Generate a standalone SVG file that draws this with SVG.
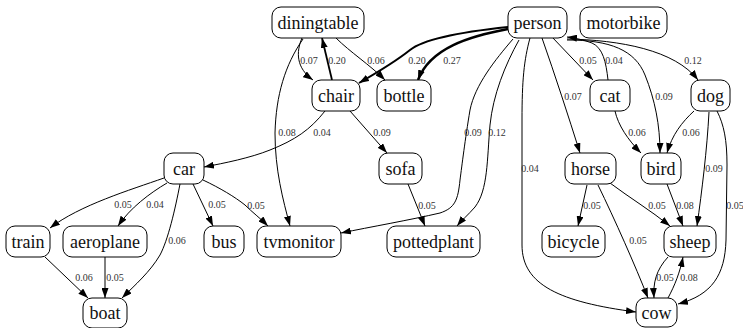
<svg xmlns="http://www.w3.org/2000/svg" width="743" height="328" viewBox="0 0 743 328">
<style>
.n rect{fill:#fff;stroke:#000;stroke-width:1}
.n text{font-size:18px;text-anchor:middle;fill:#111}
.e path{fill:none;stroke:#000;stroke-width:1;marker-end:url(#a)}
.l text{font-size:10px;text-anchor:middle;fill:#333}
</style>
<defs>
<marker id="a" markerUnits="userSpaceOnUse" markerWidth="10" markerHeight="7" refX="10" refY="3.5" orient="auto"><path d="M0,0 L10,3.5 L0,7 z" fill="#000"/></marker>
</defs>
<rect width="743" height="328" fill="#fff"/>
<g id="connectors">
<g class="e">
<path d="M302,38 C296,52 296,68 313,80"/>
<path d="M332,80 L322,38" style="stroke-width:1.8"/>
<path d="M336,38 C350,52 370,65 385,80"/>
<path d="M303,39 C285,65 276,95 275,133 C275,170 283,200 290,226"/>
<path d="M508,27 C470,31 425,38 410,50 C400,58 385,68 359,83" style="stroke-width:2"/>
<path d="M508,29 C470,36 430,48 418,80" style="stroke-width:2.5"/>
<path d="M513,39 C495,60 475,85 470,110 C465,140 462,165 460,180 C458,200 455,208 440,213 C410,220 370,227 341,233"/>
<path d="M519,40 C505,65 493,95 490,125 C487,160 488,190 475,207 C468,215 462,220 457,226"/>
<path d="M542,38 C555,75 568,115 580,153"/>
<path d="M530,38 C524,60 522,80 522,120 L522,245 C522,285 560,302 636,312"/>
<path d="M552,37 L593,80"/>
<path d="M608,80 C606,62 603,48 592,43 C584,40 575,38 567,37"/>
<path d="M567,40 C610,40 635,50 645,75 C655,100 660,125 660,153"/>
<path d="M567,39 C620,40 675,50 698,80"/>
<path d="M615,111 C618,125 628,140 641,153"/>
<path d="M694,111 C682,122 672,135 667,153"/>
<path d="M709,112 C707,150 702,190 697,226"/>
<path d="M717,111 C724,125 727,140 727,165 L726,240 C725,275 712,295 678,304"/>
<path d="M587,185 L578,226"/>
<path d="M610,183 C630,198 650,210 670,226"/>
<path d="M598,185 C615,220 635,265 648,298"/>
<path d="M667,184 L683,226"/>
<path d="M668,257 C656,270 653,283 654,298"/>
<path d="M668,298 C675,285 680,272 683,257"/>
<path d="M325,111 C310,130 295,140 270,150 C250,158 225,163 204,167"/>
<path d="M350,111 L387,153"/>
<path d="M408,184 L425,226"/>
<path d="M164,178 C130,190 80,205 50,228"/>
<path d="M167,183 C150,193 130,208 118,226"/>
<path d="M180,184 C175,210 168,240 160,255 C150,272 135,285 122,298"/>
<path d="M193,184 L213,226"/>
<path d="M203,180 C220,188 235,197 245,205 C252,212 260,218 268,226"/>
<path d="M45,257 L88,298"/>
<path d="M105,257 L105,298"/>
</g>
<g class="l" font-family="Liberation Serif, serif">
<text x="309" y="63.5">0.07</text>
<text x="337" y="63.5">0.20</text>
<text x="376" y="63.5">0.06</text>
<text x="287" y="135.5">0.08</text>
<text x="417" y="63.5">0.20</text>
<text x="452" y="63.5">0.27</text>
<text x="473" y="135.5">0.09</text>
<text x="497" y="135.5">0.12</text>
<text x="573" y="99.5">0.07</text>
<text x="530" y="171.5">0.04</text>
<text x="588" y="63.5">0.05</text>
<text x="614" y="63.5">0.04</text>
<text x="664" y="99.5">0.09</text>
<text x="693" y="63.5">0.12</text>
<text x="637" y="135.5">0.06</text>
<text x="691" y="135.5">0.06</text>
<text x="714" y="171.5">0.09</text>
<text x="735" y="208.5">0.05</text>
<text x="592" y="208.5">0.05</text>
<text x="657" y="208.5">0.05</text>
<text x="638" y="243.5">0.05</text>
<text x="685" y="208.5">0.08</text>
<text x="665" y="280.5">0.05</text>
<text x="689" y="280.5">0.08</text>
<text x="322" y="135.5">0.04</text>
<text x="382" y="135.5">0.09</text>
<text x="427" y="208.5">0.05</text>
<text x="123" y="207.5">0.05</text>
<text x="155" y="207.5">0.04</text>
<text x="177" y="243.5">0.06</text>
<text x="217" y="207.5">0.05</text>
<text x="256" y="208.5">0.05</text>
<text x="84" y="280.5">0.06</text>
<text x="115" y="280.5">0.05</text>
</g>
</g>
<g id="nodes" font-family="Liberation Serif, serif">
<g id="diningtable" class="n"><rect x="272" y="7" width="92" height="31" rx="9"/><text x="318" y="28.5">diningtable</text></g>
<g id="person" class="n"><rect x="508" y="7" width="59" height="31" rx="9"/><text x="537.5" y="28.5">person</text></g>
<g id="motorbike" class="n"><rect x="580" y="7" width="87" height="31" rx="9"/><text x="623.5" y="28.5">motorbike</text></g>
<g id="chair" class="n"><rect x="312" y="80" width="48" height="31" rx="9"/><text x="336" y="101.5">chair</text></g>
<g id="bottle" class="n"><rect x="377" y="80" width="54" height="31" rx="9"/><text x="404" y="101.5">bottle</text></g>
<g id="cat" class="n"><rect x="590" y="80" width="40" height="31" rx="9"/><text x="610" y="101.5">cat</text></g>
<g id="dog" class="n"><rect x="691" y="80" width="39" height="31" rx="9"/><text x="710.5" y="101.5">dog</text></g>
<g id="car" class="n"><rect x="164" y="153" width="40" height="31" rx="9"/><text x="184" y="174.5">car</text></g>
<g id="sofa" class="n"><rect x="379" y="153" width="43" height="31" rx="9"/><text x="400.5" y="174.5">sofa</text></g>
<g id="horse" class="n"><rect x="565" y="153" width="51" height="31" rx="9"/><text x="590.5" y="174.5">horse</text></g>
<g id="bird" class="n"><rect x="641" y="153" width="40" height="31" rx="9"/><text x="661" y="174.5">bird</text></g>
<g id="train" class="n"><rect x="6" y="226" width="44" height="31" rx="9"/><text x="28" y="247.5">train</text></g>
<g id="aeroplane" class="n"><rect x="63" y="226" width="84" height="31" rx="9"/><text x="105" y="247.5">aeroplane</text></g>
<g id="bus" class="n"><rect x="204" y="226" width="40" height="31" rx="9"/><text x="224" y="247.5">bus</text></g>
<g id="tvmonitor" class="n"><rect x="257" y="226" width="84" height="31" rx="9"/><text x="299" y="247.5">tvmonitor</text></g>
<g id="pottedplant" class="n"><rect x="387" y="226" width="93" height="31" rx="9"/><text x="433.5" y="247.5">pottedplant</text></g>
<g id="bicycle" class="n"><rect x="542" y="226" width="63" height="31" rx="9"/><text x="573.5" y="247.5">bicycle</text></g>
<g id="sheep" class="n"><rect x="664" y="226" width="52" height="31" rx="9"/><text x="690" y="247.5">sheep</text></g>
<g id="boat" class="n"><rect x="83" y="298" width="44" height="30" rx="9"/><text x="105" y="319">boat</text></g>
<g id="cow" class="n"><rect x="636" y="298" width="41" height="29" rx="9"/><text x="656.5" y="319">cow</text></g>
</g>
</svg>
